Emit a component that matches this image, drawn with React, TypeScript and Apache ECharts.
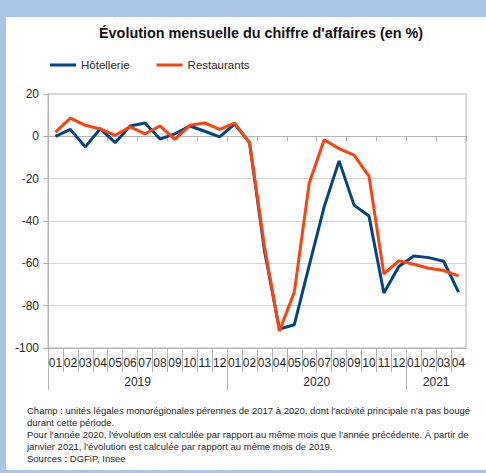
import React, { useEffect, useRef } from "react";
import * as echarts from "echarts";

const months = [
  "01", "02", "03", "04", "05", "06", "07", "08", "09", "10", "11", "12",
  "01", "02", "03", "04", "05", "06", "07", "08", "09", "10", "11", "12",
  "01", "02", "03", "04",
];
const years = ["2019", "2020", "2021"];
const yearMonthCounts = [12, 12, 4];

const hotellerie = [
  0, 3.3, -5, 3.6, -3, 4.9, 6.3, -1.3, 1.2, 4.9, 2.4, -0.3,
  5.8, -3, -54, -91, -89, -61, -33.3, -11.6, -32.5, -37.6, -74, -61.5,
  -56.5, -57.3, -59, -73.6,
];
const restaurants = [
  2, 8.6, 5.2, 3.5, 0.5, 4.5, 1.2, 4.9, -1.4, 5.2, 6.3, 3.3,
  6.2, -3, -52, -92, -73.6, -22, -1.6, -5.8, -8.9, -18.8, -65, -58.8,
  -60.4, -62.3, -63.4, -65.9,
];

const yMin = -100;
const yMax = 20;
const yStep = 20;

const titleText = "Évolution mensuelle du chiffre d'affaires (en %)";
const seriesNames = ["Hôtellerie", "Restaurants"];
const noteLines = [
  "Champ : unités légales monorégionales pérennes de 2017 à 2020, dont l'activité principale n'a pas bougé",
  "durant cette période.",
  "Pour l'année 2020, l'évolution est calculée par rapport au même mois que l'année précédente. À partir de",
  "janvier 2021, l'évolution est calculée par rapport au même mois de 2019.",
  "Sources : DGFiP, Insee",
];

const FONT = "Liberation Sans, Arial, sans-serif";
const AXIS = "#b3b3b3";
const GRIDC = "#d6d6d6";
const TXT = "#2a2a2a";

export default function App() {
  const ref = useRef<HTMLDivElement>(null);

  useEffect(() => {
    if (!ref.current) return;
    const chart = echarts.init(ref.current, null, { renderer: "svg" });

    const n = months.length;
    const yearStarts: number[] = [];
    let acc = 0;
    yearMonthCounts.forEach((c) => {
      yearStarts.push(acc);
      acc += c;
    });
    const yearCenters = yearStarts.map((s, i) => s + yearMonthCounts[i] / 2);
    const monthTicks = months.map((_, i) => i);
    const monthLabelPos = months.map((_, i) => i + 0.5);

    chart.setOption({
      animation: false,
      textStyle: { fontFamily: FONT },
      title: [
        {
          text: titleText,
          left: 99,
          top: 26,
          padding: 0,
          textStyle: { fontSize: 14.4, fontWeight: "bold", color: "#111", fontFamily: FONT },
        },
        {
          text: noteLines.join("\n"),
          left: 27,
          top: 404,
          padding: 0,
          textStyle: { fontSize: 9.5, fontWeight: "normal", color: TXT, lineHeight: 12, fontFamily: FONT },
        },
      ],
      legend: {
        data: seriesNames,
        left: 50,
        top: 59,
        padding: 0,
        icon: "rect",
        itemWidth: 26,
        itemHeight: 3,
        itemGap: 27,
        textStyle: { fontSize: 11.5, color: TXT, fontFamily: FONT },
      },
      grid: {
        left: 48,
        right: 20,
        top: 94,
        bottom: 125,
        show: true,
        borderColor: AXIS,
        borderWidth: 1,
        backgroundColor: "transparent",
      },
      xAxis: [
        {
          type: "category",
          data: months,
          boundaryGap: true,
          axisLine: { onZero: true, lineStyle: { color: AXIS } },
          axisTick: { show: true, length: 5, lineStyle: { color: AXIS } },
          axisLabel: { show: false },
          splitLine: { show: false },
        },
        {
          type: "value",
          min: 0,
          max: n,
          position: "bottom",
          axisLine: { show: true, onZero: false, lineStyle: { color: AXIS } },
          axisTick: { show: true, length: 24, customValues: monthTicks, lineStyle: { color: AXIS } },
          axisLabel: {
            show: true,
            customValues: monthLabelPos,
            formatter: (v: number) => months[Math.floor(v)] ?? "",
            fontSize: 12,
            color: TXT,
            margin: 9,
            fontFamily: FONT,
          },
          splitLine: { show: false },
        },
        {
          type: "value",
          min: 0,
          max: n,
          position: "bottom",
          axisLine: { show: false, onZero: false },
          axisTick: { show: true, length: 42, customValues: yearStarts, lineStyle: { color: AXIS } },
          axisLabel: {
            show: true,
            customValues: yearCenters,
            formatter: (v: number) => {
              const i = yearCenters.findIndex((c) => Math.abs(c - v) < 1e-6);
              return i >= 0 ? years[i] : "";
            },
            fontSize: 12,
            color: TXT,
            margin: 28,
            fontFamily: FONT,
          },
          splitLine: { show: false },
        },
      ],
      yAxis: {
        type: "value",
        min: yMin,
        max: yMax,
        interval: yStep,
        axisLine: { show: true, lineStyle: { color: AXIS } },
        axisTick: { show: true, length: 5, lineStyle: { color: AXIS } },
        axisLabel: { fontSize: 12, color: TXT, margin: 9, fontFamily: FONT },
        splitLine: { show: true, lineStyle: { color: GRIDC } },
      },
      series: [
        {
          name: seriesNames[0],
          type: "line",
          data: hotellerie,
          xAxisIndex: 0,
          showSymbol: false,
          symbol: "none",
          lineStyle: { color: "#004586", width: 3 },
          itemStyle: { color: "#004586" },
        },
        {
          name: seriesNames[1],
          type: "line",
          data: restaurants,
          xAxisIndex: 0,
          showSymbol: false,
          symbol: "none",
          lineStyle: { color: "#ff420e", width: 3 },
          itemStyle: { color: "#ff420e" },
        },
      ],
    });

    return () => chart.dispose();
  }, []);

  return (
    <div style={{ position: "fixed", left: 0, top: 0, width: 486, height: 473, background: "#abc5e6" }}>
      <div style={{ position: "absolute", left: 6, top: 17, width: 480, height: 453, background: "#ffffff" }} />
      <div ref={ref} style={{ position: "absolute", left: 0, top: 0, width: 486, height: 473 }} />
    </div>
  );
}
